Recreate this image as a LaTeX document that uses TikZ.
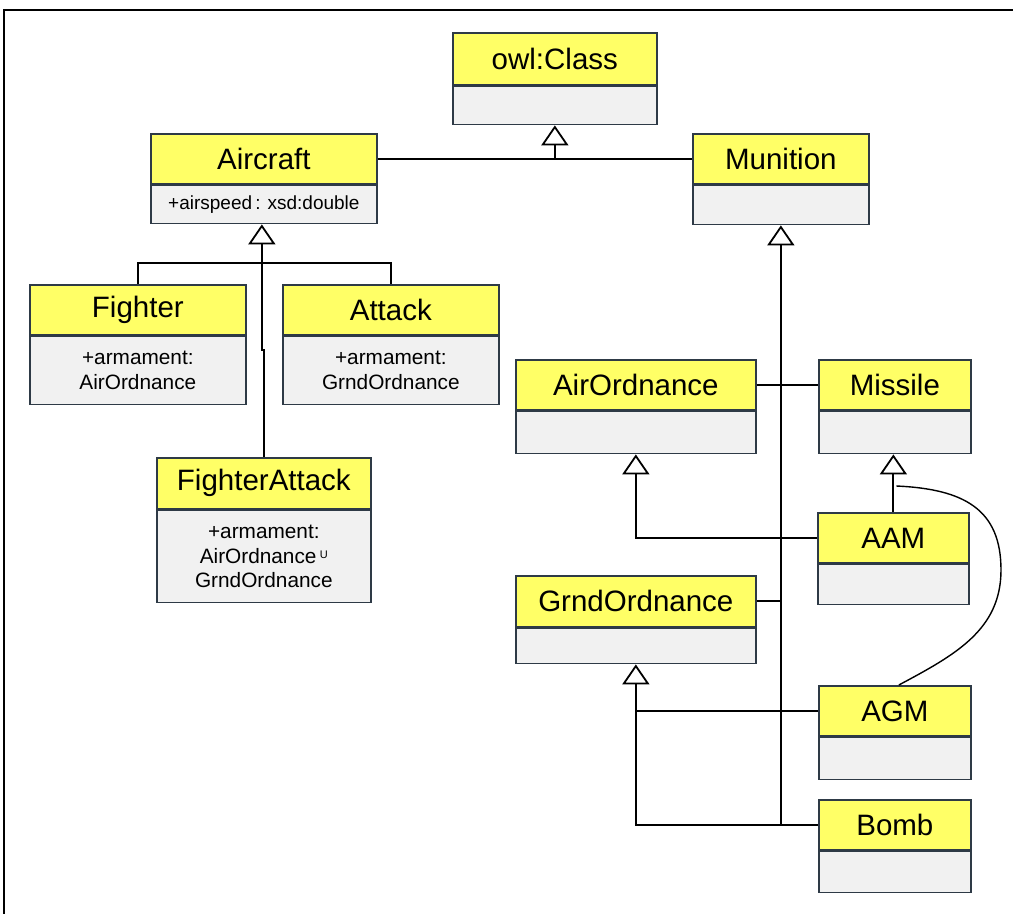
\documentclass[tikz,border=0pt]{standalone}
\usepackage{fontspec}
\setmainfont{Liberation Sans}
\usetikzlibrary{arrows.meta,calc}

\definecolor{headfill}{HTML}{FFFF66}
\definecolor{bodyfill}{HTML}{F1F1F1}
\definecolor{boxline}{HTML}{2E3A46}

\newcommand\headfont{\fontsize{29.5}{33}\selectfont}
\newcommand\bodyfont{\fontsize{20.8}{24.5}\selectfont}

\begin{document}
\begin{tikzpicture}[x=1pt,y=-1pt,
  classhead/.style={draw=boxline, fill=headfill, line width=1.7pt, inner sep=0pt,
    anchor=north west, font=\headfont, minimum height=50pt},
  classbody/.style={draw=boxline, fill=bodyfill, line width=1.7pt, inner sep=0pt,
    anchor=north, font=\bodyfont, align=center},
  link/.style={line width=1.8pt, black},
  gen/.style={link, -{Triangle[open, length=20pt, width=27pt, line width=1.8pt]}}
]
\useasboundingbox (0,0) rectangle (1013,914);
% page frame
\draw[line width=1.5pt] (1013,10) -- (4,10) -- (4,914);

% ---------- classes ----------
\node[classhead, minimum width=204pt, minimum height=52pt] (owl) at (452,32) {owl:Class};
\node[classbody, minimum width=204pt, minimum height=38pt] (owl-b) at (owl.south) {};

\node[classhead, minimum width=226pt] (aircraft) at (150,133) {Aircraft};
\node[classbody, minimum width=226pt, minimum height=38pt, font=\fontsize{19}{23}\selectfont]
  (aircraft-b) at (aircraft.south) {+airspeed\,: xsd:double};

\node[classhead, minimum width=176pt] (munition) at (692,133) {Munition};
\node[classbody, minimum width=176pt, minimum height=39pt] (munition-b) at (munition.south) {};

\node[classhead, minimum width=216pt] (fighter) at (29,284) {Fighter};
\node[classbody, minimum width=216pt, minimum height=68pt] (fighter-b) at (fighter.south)
  {+armament:\\AirOrdnance};

\node[classhead, minimum width=216pt] (attack) at (282,284) {Attack};
\node[classbody, minimum width=216pt, minimum height=68pt] (attack-b) at (attack.south)
  {+armament:\\GrndOrdnance};

\node[classhead, minimum width=214pt, minimum height=51pt] (fa) at (156,457) {FighterAttack};
\node[classbody, minimum width=214pt, minimum height=92pt] (fa-b) at (fa.south)
  {+armament:\\AirOrdnance\,\raisebox{5pt}{\fontsize{11}{11}\selectfont U}\\GrndOrdnance};

\node[classhead, minimum width=240pt] (airord) at (515,359) {AirOrdnance};
\node[classbody, minimum width=240pt, minimum height=42pt] (airord-b) at (airord.south) {};

\node[classhead, minimum width=240pt, minimum height=51pt] (grnd) at (515,575) {GrndOrdnance};
\node[classbody, minimum width=240pt, minimum height=35pt] (grnd-b) at (grnd.south) {};

\node[classhead, minimum width=152pt] (missile) at (818,359) {Missile};
\node[classbody, minimum width=152pt, minimum height=42pt] (missile-b) at (missile.south) {};

\node[classhead, minimum width=151pt] (aam) at (817,512) {AAM};
\node[classbody, minimum width=151pt, minimum height=40pt] (aam-b) at (aam.south) {};

\node[classhead, minimum width=152pt] (agm) at (818,685) {AGM};
\node[classbody, minimum width=152pt, minimum height=42pt] (agm-b) at (agm.south) {};

\node[classhead, minimum width=152pt] (bomb) at (818,799) {Bomb};
\node[classbody, minimum width=152pt, minimum height=41pt] (bomb-b) at (bomb.south) {};

% ---------- connectors ----------
% Aircraft / Munition -> owl:Class
\draw[link] (aircraft.east) -- (munition.west);
\draw[gen] (aircraft.east -| owl-b.south) -- (owl-b.south);

% Fighter, Attack, FighterAttack -> Aircraft
\coordinate (ac-tip) at ($(aircraft-b.south)+(-2,0)$);
\draw[link] (fighter.north) -- ++(0,-21) -| (attack.north);
\draw[gen] (fa.north) -- ++(0,-107) -- ++(-2,0) -- (ac-tip);

% everything under Munition
\draw[gen] (bomb.west -| munition-b.south) -- (munition-b.south);
\draw[link] (airord.east) -- (missile.west);
\draw[link] (grnd.east) -- (grnd.east -| munition-b.south);

% AAM -> AirOrdnance, Missile
\draw[gen] (aam.west) -| (airord-b.south);
\draw[gen] (aam.north) -- (aam.north |- missile-b.south);

% AGM, Bomb -> GrndOrdnance
\draw[gen] (bomb.west) -| (grnd-b.south);
\draw[link] (agm.west) -- (agm.west -| grnd-b.south);

% curved link from the AAM generalization to AGM
\coordinate (curve-start) at ($(aam.north)+(3,-26)$);
\coordinate (curve-end) at ($(agm.north)+(4,0)$);
\draw[line width=1.4pt] (curve-start) .. controls (965,489) and (1001,510) .. (1001,570)
  .. controls (1001,630) and (955,655) .. (curve-end);
\end{tikzpicture}
\end{document}
